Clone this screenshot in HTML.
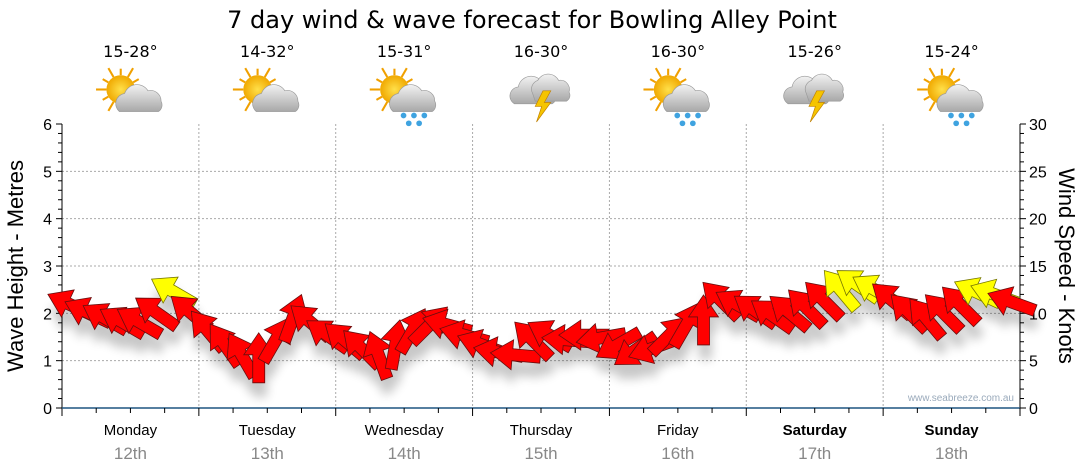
<!DOCTYPE html>
<html><head><meta charset="utf-8">
<style>
body{margin:0;background:#fff;}
svg{display:block;font-family:"DejaVu Sans","Liberation Sans",sans-serif;}
</style></head>
<body>
<svg id="chart" width="1080" height="475" viewBox="0 0 1080 475" xmlns="http://www.w3.org/2000/svg">
<defs>
<filter id="shadow" x="-50%" y="-50%" width="200%" height="200%">
<feGaussianBlur in="SourceAlpha" stdDeviation="5"/>
<feOffset dx="2" dy="14" result="b"/>
<feComponentTransfer><feFuncA type="linear" slope="0.22"/></feComponentTransfer>
<feMerge><feMergeNode/><feMergeNode in="SourceGraphic"/></feMerge>
</filter>
<radialGradient id="sunG" cx="0.5" cy="0.5" r="0.5"><stop offset="0" stop-color="#ffe04a"/><stop offset="1" stop-color="#f0a800"/></radialGradient>
<linearGradient id="cloudG" x1="0" y1="0" x2="0" y2="1"><stop offset="0" stop-color="#f2f2f2"/><stop offset="1" stop-color="#a8a8a8"/></linearGradient>
</defs>
<text x="532" y="28" text-anchor="middle" font-size="24" fill="#000">7 day wind &amp; wave forecast for Bowling Alley Point</text>
<g id="grid"></g>
<g id="icons"></g>
<g id="axes"></g>
<text x="1014" y="401" text-anchor="end" font-size="10" fill="#9aaabb" font-family="Liberation Sans, sans-serif">www.seabreeze.com.au</text>
<g id="arrows" filter="url(#shadow)"></g>
<text transform="translate(23,266) rotate(-90)" text-anchor="middle" font-size="22" font-family="Liberation Sans, sans-serif">Wave Height - Metres</text>
<text transform="translate(1059,266) rotate(90)" text-anchor="middle" font-size="22" font-family="Liberation Sans, sans-serif">Wind Speed - Knots</text>
</svg>
<script>
const days = ["Monday","Tuesday","Wednesday","Thursday","Friday","Saturday","Sunday"];
const dates = ["12th","13th","14th","15th","16th","17th","18th"];
const temps = ["15-28°","14-32°","15-31°","16-30°","16-30°","15-26°","15-24°"];
const weather = ["sun-cloud","sun-cloud","sun-rain","storm","sun-rain","storm","sun-rain"];
const waveTicks = [0,1,2,3,4,5,6];
const windTicks = [0,5,10,15,20,25,30];
// wind speed (knots), 3-hourly
const windSpeed = [
10.9,10.1,9.5,9.1,9.1,10.1,12.3,10.1,
8.2,6.7,5.6,5.3,7.2,9.5,9.1,7.7,
7.2,6.3,5.6,6.7,8.2,8.8,8.8,7.7,
6.7,5.9,5.6,7.2,7.7,7.2,7.7,7.4,
6.7,6.1,6.3,7.7,8.8,9.3,11.4,10.9,
10.3,9.8,10.1,10.6,11.4,12.5,13.0,12.5,
11.4,10.1,9.5,10.1,10.9,12.2,12.0,11.2];
// arrow direction (degrees, 0=right, 90=up)
const windDir = [
155,155,150,150,150,145,150,140,
130,125,120,90,60,70,140,145,
140,135,110,80,60,45,165,165,
160,170,175,135,150,175,180,190,
210,215,200,45,60,90,135,150,
145,145,140,135,135,130,145,150,
140,135,130,135,135,155,160,160];
const yellowThreshold = 11.8;

const NS="http://www.w3.org/2000/svg";
const X0=62,X1=1020,Y0=408,Y1=124,DAYW=(X1-X0)/7;
const xT=h=>X0+h/24*DAYW;
const yM=m=>Y0-(Y0-Y1)*m/6;
const yK=k=>Y0-(Y0-Y1)*k/30;
function mk(tag,attrs,parent){const e=document.createElementNS(NS,tag);for(const k in attrs)e.setAttribute(k,attrs[k]);parent.appendChild(e);return e;}
const grid=document.getElementById('grid'),axes=document.getElementById('axes'),icons=document.getElementById('icons'),arrows=document.getElementById('arrows');

waveTicks.forEach(m=>{
  if(m>0&&m<6){const l=mk('line',{x1:X0,x2:X1,y1:yM(m),y2:yM(m),stroke:'#aaa','stroke-dasharray':'2,2'},grid);
  
  }
  const t=mk('text',{x:X0-10,y:yM(m)+6,'text-anchor':'end','font-size':16,'font-family':'Liberation Sans, sans-serif'},axes);
  t.textContent=m;
  
  
});
windTicks.forEach(k=>{
  const t=mk('text',{x:X1+9,y:yK(k)+6,'font-size':16,'font-family':'Liberation Sans, sans-serif'},axes);
  t.textContent=k;
  
  
});
for(let i=0;i<=30;i++){
  const y=yK(i),len=(i%5==0)?6:4;
  mk('line',{x1:X0-len,x2:X0,y1:y,y2:y,stroke:'#000'},axes);
  mk('line',{x1:X1,x2:X1+len,y1:y,y2:y,stroke:'#000'},axes);
}
mk('line',{x1:X0,x2:X0,y1:Y1,y2:Y0+8,stroke:'#000'},axes);
mk('line',{x1:X1,x2:X1,y1:Y1,y2:Y0+8,stroke:'#000'},axes);
mk('line',{x1:X0,x2:X1,y1:Y0,y2:Y0,stroke:'#1f5580','stroke-width':1.5},axes);
for(let d=0;d<7;d++){
  if(d>0){const g=mk('line',{x1:xT(d*24),x2:xT(d*24),y1:Y1,y2:Y0,stroke:'#aaa','stroke-dasharray':'2,2'},grid);
  
  }
  for(let q=1;q<=4;q++){const x=xT(d*24+q*6);mk('line',{x1:x,x2:x,y1:Y0,y2:Y0+(q==4?8:5),stroke:'#000'},axes);}
  const cx=xT(d*24+12);
  const dl=mk('text',{x:cx,y:435,'text-anchor':'middle','font-size':15,'font-family':'Liberation Sans, sans-serif','font-weight':d>=5?'bold':'normal'},axes);
  dl.textContent=days[d];
  
  
  const dt=mk('text',{x:cx,y:459,'text-anchor':'middle','font-size':17,fill:'#888','font-family':'Liberation Sans, sans-serif'},axes);
  dt.textContent=dates[d];
  
  
  const tt=mk('text',{x:cx,y:57,'text-anchor':'middle','font-size':16},icons);
  tt.textContent=temps[d];
  
  
  const g=mk('g',{transform:`translate(${cx+2},96) scale(1.3)`},icons);
  
  
  const w=weather[d];
  if(w!=='storm'){
    for(let r=0;r<12;r++){const a=r*Math.PI/6;mk('line',{x1:-9+Math.cos(a)*11,y1:-5+Math.sin(a)*11,x2:-9+Math.cos(a)*(r%2?16:19),y2:-5+Math.sin(a)*(r%2?16:19),stroke:'#f0a000','stroke-width':1.6},g);}
    mk('circle',{cx:-9,cy:-5,r:11,fill:'url(#sunG)'},g);
    mk('path',{d:'M-10,12 a8,8 0 0 1 4,-14 a10,10 0 0 1 18,-2 a8,8 0 0 1 10,8 a6,6 0 0 1 -2,8 z',fill:'url(#cloudG)',stroke:'#999','stroke-width':0.5},g);
  } else {
    mk('path',{d:'M-22,6 a7,7 0 0 1 3,-13 a10,10 0 0 1 18,-4 a8,8 0 0 1 10,10 a5,5 0 0 1 -2,7 z',fill:'url(#cloudG)',stroke:'#999','stroke-width':0.5},g);
    mk('path',{d:'M-8,-2 a7,7 0 0 1 4,-10 a9,9 0 0 1 16,0 a7,7 0 0 1 8,9 a5,5 0 0 1 -2,7 h-24 z',fill:'url(#cloudG)',stroke:'#999','stroke-width':0.5},g);
    mk('path',{d:'M0,-4 l-6,12 h5 l-4,12 l11,-15 h-5 l5,-9 z',fill:'#f5c400',stroke:'#c08000','stroke-width':0.5},g);
  }
  if(w==='sun-rain'){[[-2,15],[6,15],[14,15],[2,21],[10,21]].forEach(p=>mk('circle',{cx:p[0],cy:p[1],r:2.2,fill:'#3fa3e0'},g));}
}
// arrows
const L=50,HL=22,HW=15,SW=6;
windSpeed.forEach((s,i)=>{
  const cx=xT(i*3+1.5),cy=yK(s);
  const p=mk('polygon',{points:`${L/2},0 ${L/2-HL},${-HW} ${L/2-HL},${-SW} ${-L/2},${-SW} ${-L/2},${SW} ${L/2-HL},${SW} ${L/2-HL},${HW}`,
    fill:s>=yellowThreshold?'#ffff00':'#ff0000',stroke:s>=yellowThreshold?'#777700':'#661111','stroke-width':0.8,
    transform:`translate(${cx},${cy}) rotate(${-windDir[i]})`},arrows);
  
  
});
</script>
</body></html>
